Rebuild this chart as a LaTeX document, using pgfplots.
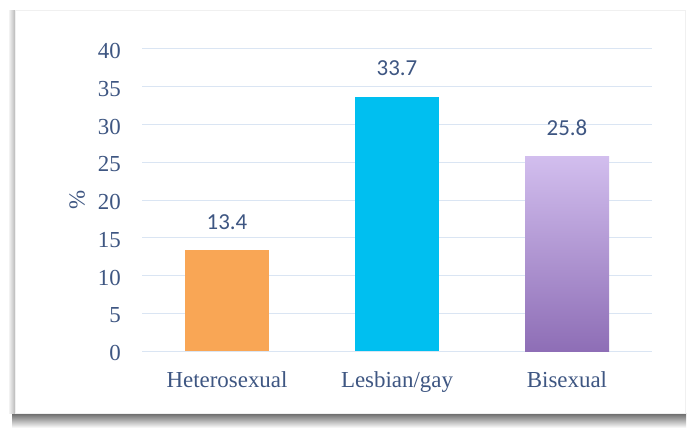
\documentclass[border=0pt]{standalone}
\usepackage{pgfplots}
\pgfplotsset{compat=1.18}
\usepackage{fontspec}
\setmainfont{Liberation Serif}
\newfontfamily\labfont{Carlito}
\definecolor{txt}{RGB}{62,86,130}
\definecolor{gridc}{RGB}{218,229,243}
\definecolor{orangebar}{RGB}{249,166,85}
\definecolor{cyanbar}{RGB}{0,191,240}
\definecolor{purpTop}{RGB}{210,190,238}
\definecolor{purpBot}{RGB}{142,110,182}
\begin{document}
\begin{tikzpicture}[x=1bp,y=1bp]
\useasboundingbox (0,0) rectangle (688,430);
\fill[white] (0,0) rectangle (688,430);
% card shadow
\shade[top color=black!60, bottom color=white] (12,2) rectangle (686,17);
\shade[left color=gray!10, right color=gray!55] (9,17) rectangle (15,419);
\fill[white, draw=gray!12, line width=0.6bp] (15,17) rectangle (685,420);
\begin{axis}[
  at={(142bp,79bp)}, anchor=south west,
  scale only axis, width=510bp, height=302bp,
  xmin=-0.5, xmax=2.5, ymin=0, ymax=40,
  ytick={0,5,...,40},
  xtick={0,1,2},
  xticklabels={Heterosexual,Lesbian/gay,Bisexual},
  axis line style={draw=none},
  major tick length=0pt,
  ymajorgrids, grid style={color=gridc, line width=1bp},
  tick label style={font=\fontsize{23}{26}\selectfont, text=txt},
  /pgf/number format/assume math mode=true,
  xticklabel style={inner sep=0pt, anchor=north, yshift=-20bp, text height=16bp, text depth=5bp},
  yticklabel style={inner sep=0pt, anchor=east, xshift=-21bp, yshift=-2bp},
  ylabel={\%},
  ylabel style={at={(axis description cs:-0.127,0.5)}, anchor=center, rotate=0, font=\fontsize{23}{26}\selectfont, text=txt},
  nodes near coords={\pgfmathprintnumber[fixed,precision=1,fixed zerofill]{\pgfplotspointmeta}},
  every node near coord/.append style={font=\labfont\fontsize{23}{26}\selectfont, text=txt, anchor=center, yshift=28bp},
]
\addplot[ybar, bar width=84bp, bar shift=0pt, draw=none, fill=orangebar] coordinates {(0,13.4)};
\addplot[ybar, bar width=84bp, bar shift=0pt, draw=none, fill=cyanbar] coordinates {(1,33.7)};
\addplot[ybar, bar width=84bp, bar shift=0pt, draw=none, top color=purpTop, bottom color=purpBot] coordinates {(2,25.8)};
\end{axis}
\end{tikzpicture}
\end{document}
